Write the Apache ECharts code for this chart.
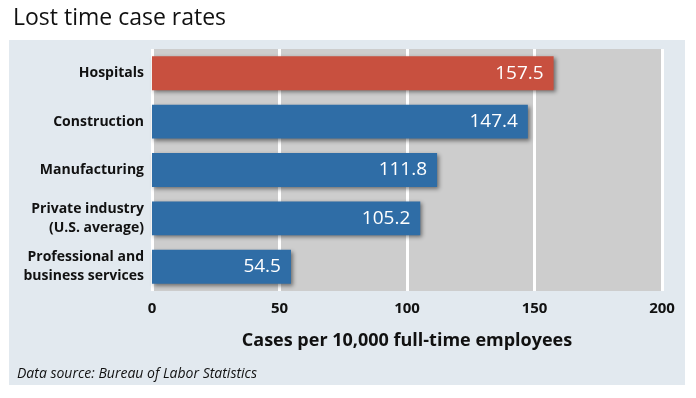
<!DOCTYPE html>
<html>
<head>
<meta charset="utf-8">
<script src="https://cdn.jsdelivr.net/npm/echarts@6/dist/echarts.min.js"></script>
<style>
  html, body { margin: 0; padding: 0; background: #fff; }
  #main { width: 696px; height: 398px; }
</style>
</head>
<body>
<div id="main"></div>
<script>
// data
const categories = ['Hospitals', 'Construction', 'Manufacturing', 'Private industry\n(U.S. average)', 'Professional and\nbusiness services']
const values = [157.5, 147.4, 111.8, 105.2, 54.5]
const xTicks = [0, 50, 100, 150, 200]

const RED = '#c8503f'
const BLUE = '#2f6da6'
const FONT = '"Open Sans", sans-serif'

let chart = echarts.init(document.getElementById('main'))
let option = {
  backgroundColor: '#fff',
  animation: false,
  title: {
    text: 'Lost time case rates',
    left: 8,
    top: 2,
    textStyle: { fontFamily: FONT, fontSize: 23, fontWeight: 'normal', color: '#111' }
  },
  graphic: [
    {
      type: 'rect',
      z: -10,
      shape: { x: 9, y: 40, width: 676, height: 345 },
      style: { fill: '#e2e9ef' }
    },
    {
      type: 'text',
      left: 17,
      top: 367,
      style: {
        text: 'Data source: Bureau of Labor Statistics',
        font: 'italic 14px ' + FONT,
        fill: '#111'
      }
    }
  ],
  grid: {
    left: 152,
    right: 34,
    top: 49,
    bottom: 107,
    show: true,
    backgroundColor: '#cdcdcd',
    borderWidth: 0
  },
  xAxis: {
    type: 'value',
    min: 0,
    max: 200,
    interval: 50,
    name: 'Cases per 10,000 full-time employees',
    nameLocation: 'middle',
    nameGap: 41,
    nameTextStyle: { fontFamily: FONT, fontSize: 18, fontWeight: 'bold', color: '#111' },
    axisLine: { show: false },
    axisTick: { show: false },
    axisLabel: {
      margin: 10,
      fontFamily: FONT,
      fontSize: 15,
      fontWeight: 'bold',
      color: '#111',
      formatter: v => xTicks.includes(v) ? String(v) : ''
    },
    splitLine: { show: true, lineStyle: { color: '#fff', width: 3 } }
  },
  yAxis: {
    type: 'category',
    inverse: true,
    data: categories,
    axisLine: { show: false },
    axisTick: { show: false },
    axisLabel: {
      margin: 8,
      fontFamily: FONT,
      fontSize: 14,
      fontWeight: 'bold',
      color: '#111',
      lineHeight: 19,
      align: 'right'
    }
  },
  series: [
    {
      type: 'bar',
      barCategoryGap: '30%',
      data: values.map((v, i) => ({
        value: v,
        itemStyle: { color: i === 0 ? RED : BLUE }
      })),
      itemStyle: {
        shadowColor: 'rgba(0,0,0,0.45)',
        shadowBlur: 4,
        shadowOffsetX: 2,
        shadowOffsetY: 2
      },
      label: {
        show: true,
        position: 'insideRight',
        distance: 10,
        color: '#fff',
        fontFamily: FONT,
        fontSize: 19,
        formatter: p => p.value.toFixed(1)
      }
    }
  ]
}
chart.setOption(option)
window.addEventListener('resize', () => {
  chart.resize()
})
</script>
</body>
</html>
